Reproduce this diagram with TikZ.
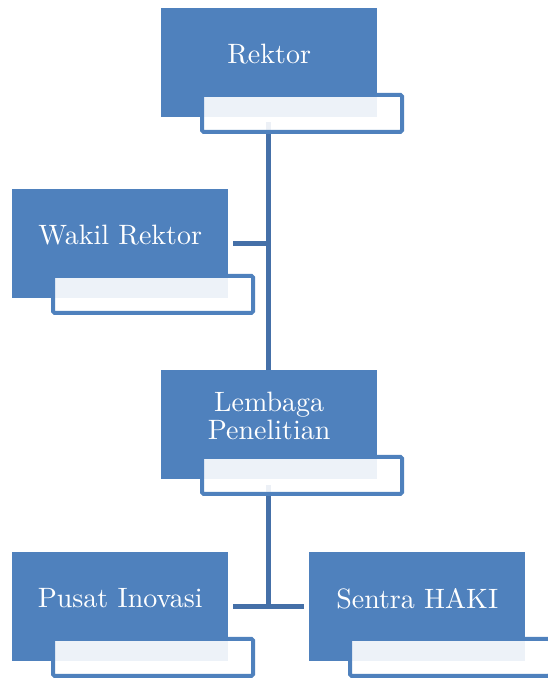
\documentclass[tikz,border=0pt]{standalone}
\usepackage{fontspec}
\newfontfamily\boxfont{lmroman10-regular.otf}
\usetikzlibrary{calc}
\definecolor{boxblue}{HTML}{4F81BD}
\definecolor{linkblue}{HTML}{4570A8}
\tikzset{
  bluebox/.style={rectangle, fill=boxblue, draw=none, inner sep=0pt,
    minimum width=216pt, minimum height=109pt, anchor=north west},
  namebox/.style={text=white, inner sep=0pt, align=center,
    font=\boxfont\fontsize{28}{28.7}\selectfont},
  tagbox/.style={rectangle, draw=boxblue, line width=4pt, fill=white,
    fill opacity=0.9, rounded corners=1.5pt, inner sep=0pt,
    minimum width=200pt, minimum height=37pt},
  link/.style={draw=linkblue, line width=5pt}
}
\begin{document}
\begin{tikzpicture}[x=1pt,y=-1pt]
\useasboundingbox (0,0) rectangle (548,679);
% blue boxes
\node[bluebox] (rek) at (161,8) {};
\node[bluebox] (wak) at (12,189) {};
\node[bluebox] (lem) at (161,370) {};
\node[bluebox] (pus) at (12,552) {};
\node[bluebox] (sen) at (309,552) {};
% texts
\node[namebox] (rekT) at ($(rek.north)+(0,46)$) {Rektor};
\node[namebox] (wakT) at ($(wak.north)+(0,46)$) {Wakil Rektor};
\node[namebox] (lemT) at ($(lem.north)+(0,46)$) {Lembaga\\Penelitian};
\node[namebox] (pusT) at ($(pus.north)+(0,46.5)$) {Pusat Inovasi};
\node[namebox] (senT) at ($(sen.north)+(0,46.5)$) {Sentra HAKI};
% connectors
\coordinate (trunkA) at ($(rek.south)+(-0.5,5)$);
\coordinate (trunkB) at ($(lem.south)+(-0.5,6)$);
\draw[link] (trunkA) -- (trunkA |- lem.north);
\draw[link] ([xshift=5pt]wak.east) -- (wak.east -| trunkA);
\draw[link] (trunkB) -- (trunkB |- pus.east);
\draw[link] ([xshift=5pt]pus.east) -- ([xshift=-5pt]sen.west);
% label boxes
\node[tagbox] (rekL) at ($(rek.south west)+(141,-4)$) {};
\node[tagbox] (wakL) at ($(wak.south west)+(141,-4)$) {};
\node[tagbox] (lemL) at ($(lem.south west)+(141,-4)$) {};
\node[tagbox] (pusL) at ($(pus.south west)+(141,-4)$) {};
\node[tagbox] (senL) at ($(sen.south west)+(141,-4)$) {};
\end{tikzpicture}
\end{document}
